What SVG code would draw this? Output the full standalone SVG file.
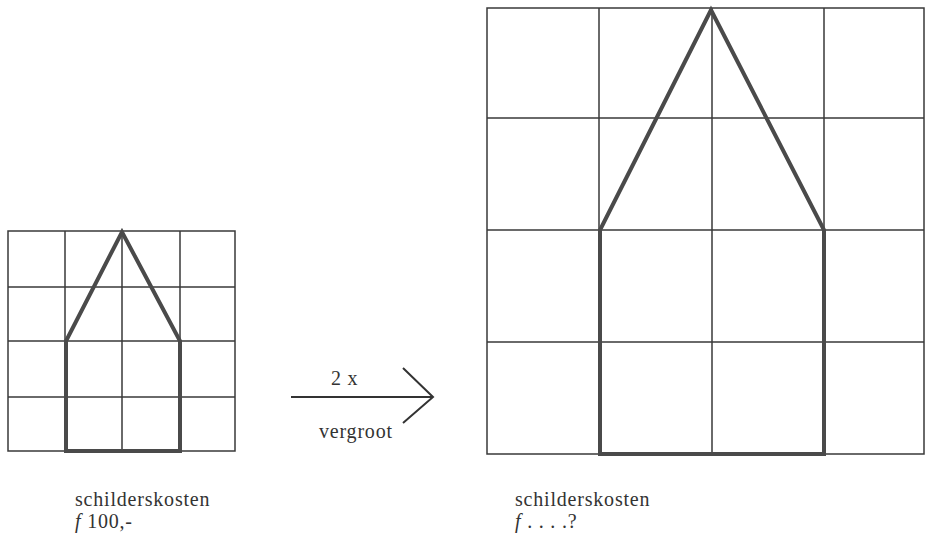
<svg xmlns="http://www.w3.org/2000/svg" width="926" height="534" viewBox="0 0 926 534">
<style>
.grid{fill:none;stroke:#3a3a3a;stroke-width:1.5}
.house{fill:none;stroke:#4a4a4a;stroke-width:4;stroke-linejoin:miter}
.arrow{fill:none;stroke:#333;stroke-width:2}
.t{font-family:"Liberation Serif","Times New Roman",serif;font-size:20px;letter-spacing:0.8px;fill:#333}
.i{font-style:italic}
</style>
<rect width="926" height="534" fill="#fff"/>
<g id="small-grid">
<path class="grid" d="M8 231H235V451H8Z M65 231V451 M122 231V451 M180 231V451 M8 287H235 M8 341H235 M8 397H235"/>
<path class="house" d="M66 451V341L122 232L180 341V451Z"/>
</g>
<g id="big-grid">
<path class="grid" d="M487 8H924V454H487Z M599 8V454 M712 8V454 M824 8V454 M487 118H924 M487 230H924 M487 342H924"/>
<path class="house" d="M600 454V230L711 10L824 230V454Z"/>
</g>
<g id="connectors">
<path class="arrow" d="M291 397H433 M403 368L433 397L403 423"/>
</g>
<g id="arrow-labels">
<text class="t" x="331" y="385">2 x</text>
<text class="t" x="319" y="438">vergroot</text>
</g>
<g id="label-small">
<text class="t" x="75" y="506">schilderskosten</text>
<text class="t" x="75" y="528"><tspan class="i">f</tspan> 100,-</text>
</g>
<g id="label-big">
<text class="t" x="515" y="506">schilderskosten</text>
<text class="t" x="515" y="528"><tspan class="i">f</tspan> . . . .?</text>
</g>
</svg>
